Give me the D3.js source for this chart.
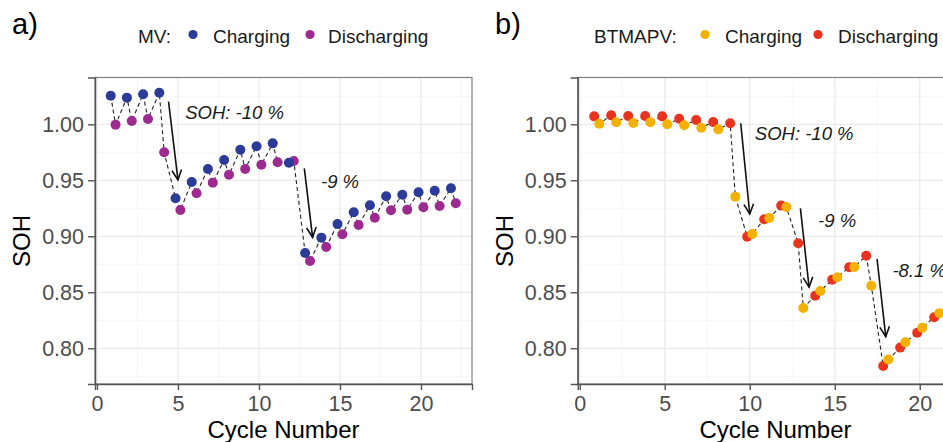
<!DOCTYPE html>
<html>
  <head>
    <meta charset="utf-8">
    <title>SOH vs Cycle Number</title>
    <script src="https://d3js.org/d3.v7.min.js"></script>
    <style>
      body { margin: 0; background: #fff; }
      text { font-family: "Liberation Sans", Arial, sans-serif; }
      .tick-label { font-size: 21.5px; fill: #4d4d4d; }
      .axis-title { font-size: 24px; fill: #000; }
      .legend text { font-size: 19px; fill: #1a1a1a; }
      .note { font-size: 18.5px; font-style: italic; fill: #1a1a1a; }
    </style>
  </head>
  <body>
    <svg width="943" height="442"></svg>
    <script>
      // ---- data ----
      var cyclesA = [1,2,3,4,5,6,7,8,9,10,11,12,13,14,15,16,17,18,19,20,21,22];
      var mvCharging = [1.0255,1.0238,1.0268,1.0282,0.9339,0.9485,0.9601,0.9681,0.9773,0.9804,0.9830,
                        0.9657,0.8851,0.8988,0.9110,0.9214,0.9277,0.9357,0.9371,0.9393,0.9407,0.9429];
      var mvDischarging = [0.9997,1.0029,1.0047,0.9750,0.9235,0.9384,0.9479,0.9550,0.9601,0.9639,0.9661,
                           0.9672,0.8779,0.8904,0.9018,0.9101,0.9166,0.9232,0.9238,0.9259,0.9271,0.9295];

      var cyclesB = [1,2,3,4,5,6,7,8,9,10,11,12,13,14,15,16,17,18,19,20,21];
      var btCharging = [1.0005,1.0018,1.0012,1.0018,1.0000,0.9991,0.9970,0.9955,0.9354,0.9021,0.9163,
                        0.9262,0.8360,0.8512,0.8634,0.8726,0.8559,0.7899,0.8054,0.8184,0.8313];
      var btDischarging = [1.0071,1.0080,1.0074,1.0074,1.0071,1.0050,1.0038,1.0021,1.0009,0.8997,0.9152,
                           0.9274,0.8938,0.8470,0.8613,0.8723,0.8827,0.7842,0.8006,0.8139,0.8277];

      var xTicks = [0, 5, 10, 15, 20];
      var yTicks = [0.80, 0.85, 0.90, 0.95, 1.00];

      // arrows and labels, in data units
      var arrowsA = [[4.42, 1.0202, 5.0, 0.9503], [12.8, 0.9607, 13.31, 0.8991]];
      var notesA = [[5.45, 1.0047, "SOH: -10 %"], [13.83, 0.9429, "-9 %"]];
      var arrowsB = [[9.47, 1.0009, 10.0, 0.9199], [12.98, 0.925, 13.49, 0.8545], [17.49, 0.8797, 18.0, 0.8104]];
      var notesB = [[10.3, 0.986, "SOH: -10 %"], [14.02, 0.9086, "-9 %"], [18.39, 0.8639, "-8.1 %"]];

      var svg = d3.select("svg");

      function panel(opt) {
        var x = d3.scaleLinear().domain([-0.12, 23.15]).range([opt.left, opt.right]);
        var y = d3.scaleLinear().domain([0.7681, 1.0418]).range([384, 77.5]);
        var g = svg.append("g");

        // minor + major grid
        var minorX = d3.range(2.5, 23, 5), minorY = d3.range(0.775, 1.04, 0.05);
        g.selectAll(".gmx").data(minorX).enter().append("line")
          .attr("x1", x).attr("x2", x).attr("y1", y.range()[0]).attr("y2", y.range()[1])
          .attr("stroke", "#f4f4f4").attr("stroke-width", 0.8);
        g.selectAll(".gmy").data(minorY).enter().append("line")
          .attr("y1", y).attr("y2", y).attr("x1", opt.left).attr("x2", opt.right)
          .attr("stroke", "#f4f4f4").attr("stroke-width", 0.8);
        g.selectAll(".gx").data(xTicks).enter().append("line")
          .attr("x1", x).attr("x2", x).attr("y1", y.range()[0]).attr("y2", y.range()[1])
          .attr("stroke", "#ebebeb").attr("stroke-width", 1.3);
        g.selectAll(".gy").data(yTicks).enter().append("line")
          .attr("y1", y).attr("y2", y).attr("x1", opt.left).attr("x2", opt.right)
          .attr("stroke", "#ebebeb").attr("stroke-width", 1.3);

        // border
        g.append("rect").attr("x", opt.left).attr("y", 77.5)
          .attr("width", opt.right - opt.left).attr("height", 384 - 77.5)
          .attr("fill", "none").attr("stroke", "#7f7f7f").attr("stroke-width", 1.2);

        // axes
        var ax = g.append("g").attr("transform", "translate(0,384)")
          .call(d3.axisBottom(x).tickValues(xTicks).tickSize(6).tickPadding(6).tickFormat(d3.format("d")));
        var ay = g.append("g").attr("transform", "translate(" + opt.left + ",0)")
          .call(d3.axisLeft(y).tickValues(yTicks).tickSize(7).tickPadding(4).tickFormat(d3.format(".2f")));
        [ax, ay].forEach(function(a) {
          a.attr("font-size", null).attr("font-family", null);
          a.select(".domain").attr("stroke", "#555").attr("stroke-width", 1.4);
          a.selectAll(".tick line").attr("stroke", "#555").attr("stroke-width", 1.4);
          a.selectAll(".tick text").attr("class", "tick-label");
        });

        // titles
        g.append("text").attr("class", "axis-title").attr("text-anchor", "middle")
          .attr("x", (opt.left + opt.right) / 2).attr("y", 438)
          .text("Cycle Number");
        g.append("text").attr("class", "axis-title").attr("text-anchor", "middle")
          .attr("transform", "translate(" + (opt.left - 65) + "," + 241 + ") rotate(-90)")
          .text("SOH");

        // dashed zig-zag through all points in x order
        var pts = [];
        opt.cycles.forEach(function(c, i) {
          pts.push({x: c + opt.off1, y: opt.s1[i]});
          pts.push({x: c + opt.off2, y: opt.s2[i]});
        });
        pts.sort(function(a, b) { return a.x - b.x; });
        g.append("path").datum(pts)
          .attr("d", d3.line().x(function(d) { return x(d.x); }).y(function(d) { return y(d.y); }))
          .attr("fill", "none").attr("stroke", "#222").attr("stroke-width", 1.1)
          .attr("stroke-dasharray", "4,3");

        // points: series s1 first, then s2 on top
        [[opt.s1, opt.off1, opt.c1], [opt.s2, opt.off2, opt.c2]].forEach(function(s) {
          g.selectAll(null).data(opt.cycles).enter().append("circle")
            .attr("cx", function(c) { return x(c + s[1]); })
            .attr("cy", function(c, i) { return y(s[0][i]); })
            .attr("r", 5).attr("fill", s[2]);
        });

        // arrows with open heads
        opt.arrows.forEach(function(a) {
          var x1 = x(a[0]), y1 = y(a[1]), x2 = x(a[2]), y2 = y(a[3]);
          var ang = Math.atan2(y2 - y1, x2 - x1), L = 11, sp = 0.45;
          g.append("line").attr("x1", x1).attr("y1", y1).attr("x2", x2).attr("y2", y2)
            .attr("stroke", "#111").attr("stroke-width", 1.6);
          g.append("path")
            .attr("d", "M" + (x2 - L * Math.cos(ang - sp)) + "," + (y2 - L * Math.sin(ang - sp)) +
                       "L" + x2 + "," + y2 +
                       "L" + (x2 - L * Math.cos(ang + sp)) + "," + (y2 - L * Math.sin(ang + sp)))
            .attr("fill", "none").attr("stroke", "#111").attr("stroke-width", 1.6);
        });
        opt.notes.forEach(function(n) {
          g.append("text").attr("class", "note").attr("x", x(n[0])).attr("y", y(n[1])).text(n[2]);
        });
      }

      panel({left: 95, right: 472, cycles: cyclesA,
             s1: mvDischarging, off1: 0.15, c1: "#9c2a8f",
             s2: mvCharging, off2: -0.15, c2: "#2b3b97",
             arrows: arrowsA, notes: notesA});
      panel({left: 577.7, right: 973.3, cycles: cyclesB,
             s1: btDischarging, off1: -0.15, c1: "#e8331f",
             s2: btCharging, off2: 0.15, c2: "#f2b103",
             arrows: arrowsB, notes: notesB});

      // panel tags
      svg.append("text").attr("x", 12).attr("y", 34).attr("font-size", 29).text("a)");
      svg.append("text").attr("x", 495).attr("y", 34).attr("font-size", 29).text("b)");

      // legends
      function legend(items) {
        var lg = svg.append("g").attr("class", "legend");
        items.forEach(function(it) {
          if (it.dot) {
            lg.append("circle").attr("cx", it.x).attr("cy", 34.5).attr("r", 4.6).attr("fill", it.dot);
          } else {
            lg.append("text").attr("x", it.x).attr("y", 43).text(it.t);
          }
        });
      }
      legend([{x: 138, t: "MV:"}, {x: 193, dot: "#2b3b97"}, {x: 213, t: "Charging"},
              {x: 310, dot: "#9c2a8f"}, {x: 328, t: "Discharging"}]);
      legend([{x: 594, t: "BTMAPV:"}, {x: 705, dot: "#f2b103"}, {x: 725, t: "Charging"},
              {x: 818, dot: "#e8331f"}, {x: 838, t: "Discharging"}]);
    </script>
  </body>
</html>
